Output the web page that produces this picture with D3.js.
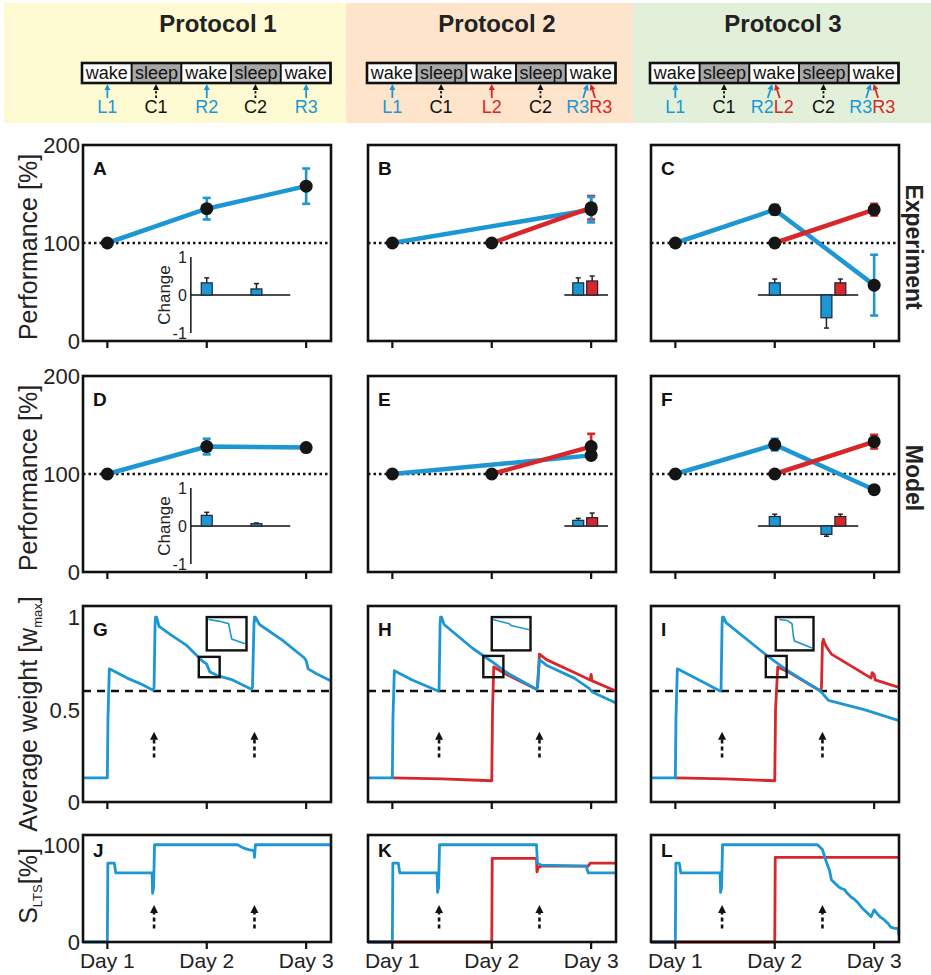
<!DOCTYPE html>
<html><head><meta charset="utf-8">
<script src="https://cdn.jsdelivr.net/npm/d3@7"></script>
<style>body{margin:0;background:#fff} svg{display:block} text{font-family:"Liberation Sans",Arial,Helvetica,sans-serif}</style>
</head><body><svg id="c" width="931" height="975"></svg>
<script>
// ================= DATA =================
const protocols = ["Protocol 1","Protocol 2","Protocol 3"];
const stripCells = ["wake","sleep","wake","sleep","wake"];
const cueP1 = [
  {day:1.0,label:"L1",kind:"M1"},{day:1.49,label:"C1",kind:"C"},{day:2.0,label:"R2",kind:"M1"},
  {day:2.49,label:"C2",kind:"C"},{day:3.0,label:"R3",kind:"M1"}];
const cueP2 = [
  {day:1.0,label:"L1",kind:"M1"},{day:1.49,label:"C1",kind:"C"},{day:2.0,label:"L2",kind:"M2"},
  {day:2.49,label:"C2",kind:"C"},{day:2.98,label:"R3",kind:"M1"},{day:2.98,label:"R3",kind:"M2"}];
const cueP3 = [
  {day:1.0,label:"L1",kind:"M1"},{day:1.49,label:"C1",kind:"C"},{day:1.99,label:"R2",kind:"M1"},
  {day:1.99,label:"L2",kind:"M2"},{day:2.49,label:"C2",kind:"C"},{day:2.98,label:"R3",kind:"M1"},{day:2.98,label:"R3",kind:"M2"}];

const dayTicks = [1,2,3];
const dayLabels = ["Day 1","Day 2","Day 3"];
const perfTicks = [0,100,200];
const weightTicks = [0,0.5,1];
const weightTickLabels = ["0","0.5","1"];
const sltsTicks = [0,100];
const changeTicks = [1,0,-1];
const panelLetters = [["A","B","C"],["D","E","F"],["G","H","I"],["J","K","L"]];
const rowTitles = ["Experiment","Model"];

// performance [day, value %, error]
const expBlue1 = [[1,100,0],[2,135,11],[3,158,18]];
const expBlue2 = [[1,100,0],[3,134,13]];
const expRed2  = [[2,100,0],[3,136,12]];
const expBlue3 = [[1,100,0],[2,134,5],[3,57,31]];
const expRed3  = [[2,100,0],[3,134,6]];
const modBlue1 = [[1,100,0],[2,128,8],[3,127,0]];
const modBlue2 = [[1,100,0],[3,119,0]];
const modRed2  = [[2,100,0],[3,128,13]];
const modBlue3 = [[1,100,0],[2,130,6],[3,84,0]];
const modRed3  = [[2,100,0],[3,133,7]];

// change insets [day, value, error, series]
const expChange1 = [[2.0,0.32,0.13,"M1"],[2.5,0.16,0.14,"M1"]];
const expChange2 = [[2.87,0.32,0.13,"M1"],[3.01,0.37,0.13,"M2"]];
const expChange3 = [[2.0,0.32,0.10,"M1"],[2.52,-0.6,0.27,"M1"],[2.66,0.32,0.10,"M2"]];
const modChange1 = [[2.0,0.28,0.08,"M1"],[2.5,0.06,0.02,"M1"]];
const modChange2 = [[2.87,0.15,0.05,"M1"],[3.01,0.22,0.12,"M2"]];
const modChange3 = [[2.0,0.25,0.06,"M1"],[2.52,-0.22,0.05,"M1"],[2.66,0.25,0.06,"M2"]];

// average weight traces [day, w/wmax]
const weightG = [[0.755,0.13],[1.0,0.13],[1.006,0.45],[1.02,0.72],[1.2,0.67],[1.35,0.635],[1.46,0.605],[1.47,0.62],[1.48,0.96],[1.485,1.0],[1.49,0.98],[1.495,1.0],[1.52,0.95],[1.65,0.9],[1.79,0.85],[1.95,0.765],[2.0,0.745],[2.03,0.705],[2.1,0.685],[2.26,0.66],[2.45,0.61],[2.46,0.62],[2.475,0.96],[2.48,1.0],[2.485,0.98],[2.49,1.0],[2.53,0.96],[2.76,0.875],[2.98,0.78],[3.0,0.765],[3.02,0.72],[3.1,0.695],[3.25,0.655]];
const weightHBlue = [[0.755,0.13],[1.0,0.13],[1.006,0.45],[1.02,0.71],[1.2,0.66],[1.46,0.6],[1.47,0.61],[1.48,0.96],[1.485,1.0],[1.49,0.98],[1.495,1.0],[1.52,0.96],[1.81,0.83],[2.0,0.76],[2.15,0.70],[2.45,0.61],[2.46,0.62],[2.48,0.77],[2.55,0.74],[2.83,0.67],[2.98,0.615],[3.01,0.595],[3.25,0.535]];
const weightHRed = [[1.0,0.13],[1.5,0.125],[2.0,0.115],[2.008,0.5],[2.02,0.73],[2.15,0.69],[2.45,0.61],[2.46,0.62],[2.48,0.8],[2.55,0.77],[2.83,0.70],[2.99,0.66],[3.0,0.69],[3.01,0.655],[3.25,0.60]];
const weightIBlue = [[0.755,0.13],[1.0,0.13],[1.006,0.45],[1.02,0.72],[1.2,0.67],[1.45,0.6],[1.46,0.61],[1.47,0.96],[1.475,1.0],[1.48,0.98],[1.485,1.0],[1.51,0.97],[1.88,0.81],[2.0,0.76],[2.13,0.71],[2.46,0.60],[2.54,0.55],[2.9,0.50],[3.25,0.44]];
const weightIRed = [[1.0,0.13],[1.5,0.125],[2.0,0.115],[2.008,0.5],[2.03,0.73],[2.13,0.705],[2.46,0.60],[2.47,0.62],[2.48,0.86],[2.49,0.88],[2.5,0.86],[2.52,0.84],[2.57,0.80],[2.97,0.67],[2.98,0.70],[3.0,0.69],[3.01,0.66],[3.25,0.62]];
const weightThreshold = 0.6;

// magnified-view boxes [day0, day1, w0, w1] and their inner trace (fractions of box)
const zoomBoxes = [
  {small:[1.92,2.13,0.675,0.785], big:[2.0,2.40,0.82,1.0]},
  {small:[1.915,2.117,0.675,0.79], big:[2.0,2.39,0.82,1.0]},
  {small:[1.91,2.12,0.675,0.79], big:[2.01,2.39,0.82,1.0]}];
const zoomTraceG = [[0.04,0.07],[0.3,0.12],[0.55,0.2],[0.6,0.5],[0.63,0.66],[0.96,0.8]];
const zoomTraceH = [[0.03,0.07],[0.45,0.2],[0.5,0.25],[0.97,0.38]];
const zoomTraceI = [[0.09,0.07],[0.3,0.1],[0.43,0.2],[0.47,0.6],[0.5,0.72],[0.96,0.93]];

// S_LTS traces [day, %]
const sltsJ = [[0.755,0],[1.0,0],[1.005,81],[1.07,81],[1.085,71],[1.45,71],[1.455,50],[1.465,56],[1.475,100],[2.31,100],[2.36,97],[2.42,95],[2.475,94],[2.48,87],[2.49,100],[3.25,100]];
const sltsKBlue = [[0.755,0],[1.0,0],[1.005,81],[1.06,81],[1.075,71],[1.45,71],[1.455,51],[1.465,56],[1.475,100],[2.45,100],[2.46,81],[2.5,79],[2.95,78],[2.97,71],[3.25,71]];
const sltsKRed = [[0.755,0],[2.0,0],[2.005,86],[2.45,86],[2.455,72],[2.47,77],[2.5,78],[2.97,78],[2.99,81],[3.25,81]];
const sltsLBlue = [[0.755,0],[1.0,0],[1.005,81],[1.04,81],[1.055,71],[1.45,71],[1.455,51],[1.465,56],[1.475,100],[2.43,100],[2.48,95],[2.52,82],[2.55,74],[2.57,64],[2.6,61],[2.64,57],[2.67,55],[2.70,54],[2.73,50],[2.77,46],[2.8,44],[2.84,40],[2.87,36],[2.90,33],[2.94,29],[2.97,26],[3.0,33],[3.04,28],[3.07,25],[3.10,23],[3.14,19],[3.17,15],[3.21,14],[3.24,14],[3.25,7]];
const sltsLRed = [[0.755,0],[2.0,0],[2.005,87],[3.25,87]];

// dashed cue arrows in weight/S_LTS panels: [day, tail, tip]
const cueArrowsW = [[1.47,0.24,0.38],[2.48,0.24,0.38]];
const cueArrowsS = [[1.47,14,38],[2.48,14,38]];

// ================= LAYOUT / STYLE =================
const BLUE = "#1d97d4", RED = "#d8272b", INK = "#111";
const color = d3.scaleOrdinal().domain(["M1","M2","C"]).range([BLUE, RED, INK]);
const headerBg = ["#fdfad2","#fde4ca","#e2efd9"];
const hdrBounds = [[4,346],[346,633],[633,931]];
const titleX = [218,497,783];
const colLeft = [83,368,651];
const PW = 248;
const rowTop = [145,376,606,835];
const rowH = [196,196,196,107];
const dayDomain = [0.755,3.25];
const xScale = c => d3.scaleLinear().domain(dayDomain).range([colLeft[c], colLeft[c]+PW]);
const svg = d3.select("#c");

function arrow(g,x1,y1,x2,y2,col,dashed,w,hl,hw){
  const a = Math.atan2(y2-y1,x2-x1), c = Math.cos(a), s = Math.sin(a);
  g.append("line").attr("x1",x1).attr("y1",y1).attr("x2",x2-c*hl*0.8).attr("y2",y2-s*hl*0.8)
    .attr("stroke",col).attr("stroke-width",w).attr("stroke-dasharray",dashed?dashed:null);
  const pts = [[x2,y2],[x2-hl*c+hw*s,y2-hl*s-hw*c],[x2-hl*c-hw*s,y2-hl*s+hw*c]];
  g.append("polygon").attr("points",pts.map(p=>p.join(",")).join(" ")).attr("fill",col);
}

// ================= HEADER =================
const cues = [cueP1,cueP2,cueP3];
protocols.forEach((p,i)=>{
  const g = svg.append("g");
  const x = xScale(i);
  g.append("rect").attr("x",hdrBounds[i][0]).attr("y",3).attr("width",hdrBounds[i][1]-hdrBounds[i][0]).attr("height",120).attr("fill",headerBg[i]);
  g.append("text").attr("x",titleX[i]).attr("y",32).attr("text-anchor","middle").attr("font-size",24).attr("font-weight","bold").attr("fill","#222").text(p);
  const s0 = 0.745, cw = 0.5, sy = 63, sh = 20;
  stripCells.forEach((t,k)=>{
    g.append("rect").attr("x",x(s0+k*cw)).attr("y",sy).attr("width",x(s0+cw)-x(s0)).attr("height",sh)
      .attr("fill",t==="sleep"?"#a8a8a8":"#fff").attr("stroke",INK).attr("stroke-width",1.8);
    g.append("text").attr("x",x(s0+k*cw+cw/2)).attr("y",sy+15.5).attr("text-anchor","middle").attr("font-size",18).attr("fill","#111").text(t);
  });
  g.append("rect").attr("x",x(s0)).attr("y",sy).attr("width",x(s0+5*cw)-x(s0)).attr("height",sh).attr("fill","none").attr("stroke",INK).attr("stroke-width",2.6);
  const list = cues[i];
  list.forEach(cu=>{
    const paired = list.filter(o=>o.day===cu.day).length>1;
    const cx = x(cu.day);
    const lean = paired ? (cu.kind==="M1"?-1:1) : 0;
    arrow(g, cx+lean*6, 98, cx+lean*1.5, 84, color(cu.kind), cu.kind==="C"?"2.5,2":null, 1.8, 6, 3);
    g.append("text").attr("x",cx).attr("y",113).attr("font-size",18).attr("fill",color(cu.kind))
      .attr("text-anchor", paired ? (cu.kind==="M1"?"end":"start") : "middle").text(cu.label);
  });
});

// ================= PERFORMANCE PANELS =================
const perfSets = [
  [[expBlue1,null,expChange1,[1.84,2.84],true],[expBlue2,expRed2,expChange2,[2.73,3.17],false],[expBlue3,expRed3,expChange3,[1.83,2.84],false]],
  [[modBlue1,null,modChange1,[1.84,2.84],true],[modBlue2,modRed2,modChange2,[2.73,3.17],false],[modBlue3,modRed3,modChange3,[1.83,2.84],false]]];

function frame(g,col,row){
  const top=rowTop[row], h=rowH[row], x=xScale(col);
  g.append("rect").attr("x",colLeft[col]).attr("y",top).attr("width",PW).attr("height",h).attr("fill","none").attr("stroke",INK).attr("stroke-width",2.6);
  dayTicks.forEach(d=>{
    g.append("line").attr("x1",x(d)).attr("x2",x(d)).attr("y1",top+h).attr("y2",top+h+7).attr("stroke",INK).attr("stroke-width",2.2);
  });
  g.append("text").attr("x",colLeft[col]+10).attr("y",top+(row===3?22:30)).attr("font-size",19).attr("font-weight","bold").attr("fill","#111").text(panelLetters[row][col]);
}

perfSets.forEach((rowSets,row)=>{
  rowSets.forEach(([blue,red,changes,span,withAxis],col)=>{
    const g = svg.append("g");
    const top=rowTop[row], h=rowH[row], x=xScale(col);
    const y = d3.scaleLinear().domain([0,200]).range([top+h,top]);
    const yi = d3.scaleLinear().domain([-1,1]).range([top+188,top+112]);
    g.append("line").attr("x1",colLeft[col]).attr("x2",colLeft[col]+PW).attr("y1",y(100)).attr("y2",y(100))
      .attr("stroke",INK).attr("stroke-width",2.4).attr("stroke-dasharray","2.5,3");
    // inset
    g.append("line").attr("x1",x(span[0])).attr("x2",x(span[1])).attr("y1",yi(0)).attr("y2",yi(0)).attr("stroke",INK).attr("stroke-width",1.5);
    if(withAxis){
      g.append("line").attr("x1",x(span[0])).attr("x2",x(span[0])).attr("y1",yi(-1)).attr("y2",yi(1)).attr("stroke",INK).attr("stroke-width",1.5);
      changeTicks.forEach(t=>g.append("text").attr("x",x(span[0])-4).attr("y",yi(t)+5.5).attr("text-anchor","end").attr("font-size",16).attr("fill","#222").text(t));
      g.append("text").attr("transform",`translate(${x(span[0])-21},${yi(0)}) rotate(-90)`).attr("text-anchor","middle").attr("font-size",17).attr("fill","#222").text("Change");
    }
    const bw = 0.055;
    changes.forEach(([d,v,e,sr])=>{
      g.append("line").attr("x1",x(d)).attr("x2",x(d)).attr("y1",yi(v)).attr("y2",yi(v+Math.sign(v)*e)).attr("stroke","#222").attr("stroke-width",1.5);
      g.append("line").attr("x1",x(d)-2.5).attr("x2",x(d)+2.5).attr("y1",yi(v+Math.sign(v)*e)).attr("y2",yi(v+Math.sign(v)*e)).attr("stroke","#222").attr("stroke-width",1.5);
      g.append("rect").attr("x",x(d-bw)).attr("width",x(d+bw)-x(d-bw)).attr("y",Math.min(yi(v),yi(0))).attr("height",Math.abs(yi(v)-yi(0)))
        .attr("fill",color(sr)).attr("stroke","#1a2633").attr("stroke-width",1.2);
    });
    const line = d3.line().x(d=>x(d[0])).y(d=>y(d[1]));
    const series = [[blue,"M1"]]; if(red) series.push([red,"M2"]);
    series.forEach(([s,k])=>g.append("path").attr("d",line(s)).attr("fill","none").attr("stroke",color(k)).attr("stroke-width",4.5));
    series.slice().reverse().forEach(([s,k])=>s.forEach(([d,v,e])=>{
      if(!e) return;
      g.append("line").attr("x1",x(d)).attr("x2",x(d)).attr("y1",y(v-e)).attr("y2",y(v+e)).attr("stroke",color(k)).attr("stroke-width",2.6);
      [v-e,v+e].forEach(t=>g.append("line").attr("x1",x(d)-4).attr("x2",x(d)+4).attr("y1",y(t)).attr("y2",y(t)).attr("stroke",color(k)).attr("stroke-width",2.6));
    }));
    series.forEach(([s])=>s.forEach(([d,v])=>g.append("circle").attr("cx",x(d)).attr("cy",y(v)).attr("r",6.5).attr("fill","#151515")));
    frame(g,col,row);
  });
});

// ================= WEIGHT PANELS =================
const weightSets = [[[weightG,"M1"]],[[weightHBlue,"M1"],[weightHRed,"M2"]],[[weightIBlue,"M1"],[weightIRed,"M2"]]];
const zoomTraces = [zoomTraceG,zoomTraceH,zoomTraceI];
weightSets.forEach((sets,col)=>{
  const row=2, g=svg.append("g"), top=rowTop[row], h=rowH[row], x=xScale(col);
  const y = d3.scaleLinear().domain([0,1.06]).range([top+h,top]);
  g.append("line").attr("x1",colLeft[col]).attr("x2",colLeft[col]+PW).attr("y1",y(weightThreshold)).attr("y2",y(weightThreshold))
    .attr("stroke",INK).attr("stroke-width",2.4).attr("stroke-dasharray","8,6");
  cueArrowsW.forEach(([d,a,b])=>arrow(g,x(d),y(a),x(d),y(b),INK,"4,3",2.6,8,4));
  const line = d3.line().x(d=>x(d[0])).y(d=>y(d[1]));
  sets.slice().reverse().forEach(([s,k])=>g.append("path").attr("d",line(s)).attr("fill","none").attr("stroke",color(k)).attr("stroke-width",2.8).attr("stroke-linejoin","round"));
  const zb = zoomBoxes[col];
  [zb.small,zb.big].forEach(b=>g.append("rect").attr("x",x(b[0])).attr("y",y(b[3])).attr("width",x(b[1])-x(b[0])).attr("height",y(b[2])-y(b[3]))
    .attr("fill","none").attr("stroke",INK).attr("stroke-width",2.4));
  const bx = d3.scaleLinear().domain([0,1]).range([x(zb.big[0]),x(zb.big[1])]);
  const by = d3.scaleLinear().domain([0,1]).range([y(zb.big[3]),y(zb.big[2])]);
  g.append("path").attr("d",d3.line().x(d=>bx(d[0])).y(d=>by(d[1]))(zoomTraces[col])).attr("fill","none").attr("stroke",BLUE).attr("stroke-width",1.6);
  if(col===0) weightTicks.forEach((t,i)=>g.append("text").attr("x",colLeft[0]-3).attr("y",y(t)+8).attr("text-anchor","end").attr("font-size",22).attr("fill","#222").text(weightTickLabels[i]));
  frame(g,col,row);
});

// ================= S_LTS PANELS =================
const sltsSets = [[[sltsJ,"M1"]],[[sltsKBlue,"M1"],[sltsKRed,"M2"]],[[sltsLBlue,"M1"],[sltsLRed,"M2"]]];
sltsSets.forEach((sets,col)=>{
  const row=3, g=svg.append("g"), top=rowTop[row], h=rowH[row], x=xScale(col);
  const y = d3.scaleLinear().domain([0,110]).range([top+h,top]);
  cueArrowsS.forEach(([d,a,b])=>arrow(g,x(d),y(a),x(d),y(b),INK,"4,3",2.6,8,4));
  const line = d3.line().x(d=>x(d[0])).y(d=>y(d[1]));
  sets.slice().reverse().forEach(([s,k])=>g.append("path").attr("d",line(s)).attr("fill","none").attr("stroke",color(k)).attr("stroke-width",2.8).attr("stroke-linejoin","round"));
  dayTicks.forEach((d,i)=>g.append("text").attr("x",x(d)).attr("y",968).attr("text-anchor","middle").attr("font-size",21).attr("fill","#222").text(dayLabels[i]));
  if(col===0) sltsTicks.forEach(t=>g.append("text").attr("x",colLeft[0]-3).attr("y",y(t)+8).attr("text-anchor","end").attr("font-size",22).attr("fill","#222").text(t));
  frame(g,col,row);
});

// ================= AXIS TITLES =================
[0,1].forEach(row=>{
  const y = d3.scaleLinear().domain([0,200]).range([rowTop[row]+rowH[row],rowTop[row]]);
  perfTicks.forEach(t=>svg.append("text").attr("x",colLeft[0]-3).attr("y",y(t)+8).attr("text-anchor","end").attr("font-size",22).attr("fill","#222").text(t));
  svg.append("text").attr("transform",`translate(37,${rowTop[row]+102}) rotate(-90)`).attr("text-anchor","middle").attr("font-size",25).attr("fill","#222").text("Performance [%]");
  svg.append("text").attr("transform",`translate(906,${rowTop[row]+102}) rotate(90)`).attr("text-anchor","middle").attr("font-size",23).attr("font-weight","bold").attr("fill","#222").text(rowTitles[row]);
});
const tw = svg.append("text").attr("transform",`translate(37,714) rotate(-90)`).attr("text-anchor","middle").attr("font-size",25).attr("fill","#222");
tw.append("tspan").text("Average weight [w");
tw.append("tspan").attr("font-size",13).attr("dy",5).text("max");
tw.append("tspan").attr("dy",-5).text("]");
const ts = svg.append("text").attr("transform",`translate(37,886) rotate(-90)`).attr("text-anchor","middle").attr("font-size",25).attr("fill","#222");
ts.append("tspan").text("S");
ts.append("tspan").attr("font-size",13).attr("dy",5).text("LTS");
ts.append("tspan").attr("dy",-5).text("[%]");
</script></body></html>
